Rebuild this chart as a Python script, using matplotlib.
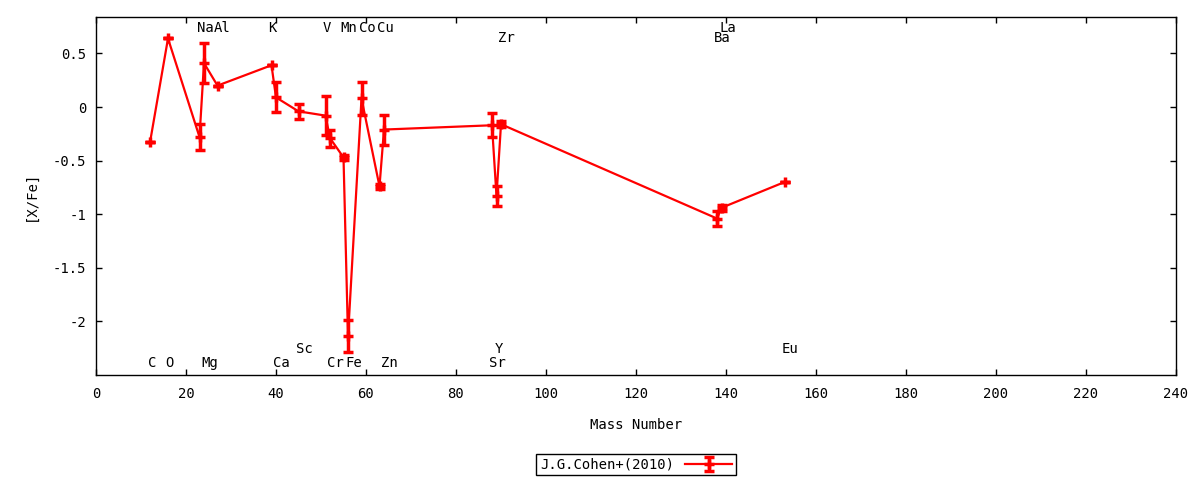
import matplotlib
matplotlib.use("Agg")
import matplotlib.pyplot as plt
from matplotlib.ticker import FuncFormatter

plt.rcParams["font.family"] = ["DejaVu Sans Mono", "DejaVu Sans"]
plt.rcParams["font.size"] = 10

# abundance pattern, J.G.Cohen+(2010)
mass = [12, 16, 23, 24, 27, 39, 40, 45, 51, 52, 55, 56, 59, 63, 64,
        88, 89, 90, 138, 139, 153]
x_fe = [-0.33, 0.64, -0.28, 0.41, 0.20, 0.39, 0.09, -0.04, -0.08, -0.29,
        -0.47, -2.14, 0.08, -0.74, -0.21, -0.17, -0.83, -0.16, -1.04,
        -0.94, -0.70]
x_fe_err = [0.0, 0.0, 0.12, 0.19, 0.0, 0.0, 0.14, 0.07, 0.18, 0.08,
            0.02, 0.15, 0.15, 0.02, 0.14, 0.11, 0.09, 0.03, 0.07,
            0.03, 0.0]

# element names written on the plot (data coordinates)
elem_names = ["Na", "Al", "K", "V", "Mn", "Co", "Cu", "Zr", "La", "Ba",
              "C", "O", "Mg", "Ca", "Sc", "Cr", "Fe", "Zn", "Y", "Sr", "Eu"]
elem_x = [24.2, 28.0, 39.2, 51.2, 56.2, 60.3, 64.3, 91.1, 140.4, 139.1,
          12.4, 16.4, 25.3, 41.3, 46.2, 53.3, 57.3, 65.1, 89.6, 89.1, 154.2]
elem_y = [0.74, 0.74, 0.74, 0.74, 0.74, 0.74, 0.74, 0.646, 0.74, 0.646,
          -2.39, -2.39, -2.39, -2.39, -2.26, -2.39, -2.39, -2.39, -2.26,
          -2.39, -2.26]

x_ticks = list(range(0, 241, 20))
y_ticks = [0.5, 0, -0.5, -1, -1.5, -2]

fig = plt.figure(figsize=(12, 4.8), dpi=100)
ax = fig.add_axes([0.08, 0.21875, 0.90, 0.7458])

ax.errorbar(mass, x_fe, yerr=x_fe_err, color="red", lw=1.6,
            marker="+", ms=7, mew=2.5, elinewidth=2.5,
            capsize=3.3, capthick=2.5, label="J.G.Cohen+(2010)")

for name, xx, yy in zip(elem_names, elem_x, elem_y):
    ax.text(xx, yy, name, ha="center", va="center")

ax.set_xlim(0, 240)
ax.set_ylim(-2.5, 0.84)
ax.set_xticks(x_ticks)
ax.set_yticks(y_ticks)
ax.yaxis.set_major_formatter(FuncFormatter(lambda v, p: f"{v:g}"))
ax.tick_params(direction="in", length=4, width=1, top=True, right=True)
ax.tick_params(axis="x", pad=9)
ax.tick_params(axis="y", pad=7)
for sp in ax.spines.values():
    sp.set_linewidth(1)

ax.set_xlabel("Mass Number", labelpad=12)
ax.set_ylabel("[X/Fe]", labelpad=11)

leg = fig.legend(loc="center", bbox_to_anchor=(0.53, 0.032),
                 markerfirst=False, fancybox=False, framealpha=1,
                 edgecolor="black", borderpad=0.25, handlelength=3.4,
                 handletextpad=0.8, borderaxespad=0)
leg.get_frame().set_linewidth(1)

fig.savefig("out.png", dpi=100)
